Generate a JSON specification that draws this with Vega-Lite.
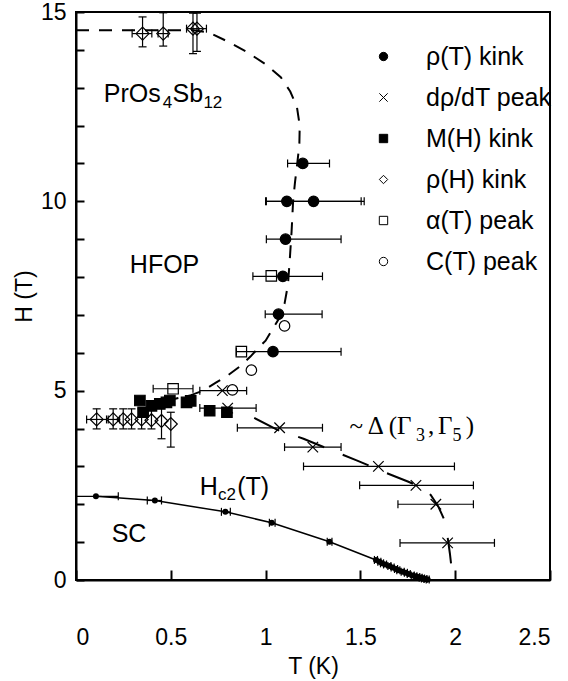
{
  "$schema": "https://vega.github.io/schema/vega-lite/v6.json",
  "width": 474,
  "height": 568,
  "autosize": {"type": "none"},
  "padding": {"left": 76, "top": 12, "right": 18, "bottom": 101},
  "config": {
    "view": {"stroke": "black", "strokeWidth": 2},
    "font": "Liberation Sans",
    "axis": {
      "domainColor": "black", "domainWidth": 2, "tickColor": "black", "tickWidth": 2,
      "grid": false, "labelColor": "black", "titleColor": "black",
      "labelFont": "Liberation Sans", "titleFont": "Liberation Sans",
      "labelFontSize": 23, "titleFontSize": 23, "titleFontWeight": "normal", "labelOverlap": false
    },
    "legend": {
      "title": null, "orient": "none", "legendX": 295, "legendY": 32, "labelFontSize": 25,
      "labelFont": "Liberation Sans", "labelColor": "black", "symbolSize": 70, "symbolStrokeWidth": 1,
      "symbolStrokeColor": "black", "rowPadding": 15, "labelOffset": 30, "padding": 0, "labelLimit": 300
    }
  },
  "datasets": {
    "pts": [
      {"s": "ρ(T) kink", "T": 1.196, "H": 11.0},
      {"s": "ρ(T) kink", "T": 1.112, "H": 10.0},
      {"s": "ρ(T) kink", "T": 1.253, "H": 10.0},
      {"s": "ρ(T) kink", "T": 1.105, "H": 9.0},
      {"s": "ρ(T) kink", "T": 1.091, "H": 8.02},
      {"s": "ρ(T) kink", "T": 1.068, "H": 7.02},
      {"s": "ρ(T) kink", "T": 1.039, "H": 6.03},
      {"s": "dρ/dT peak", "T": 0.772, "H": 5.0},
      {"s": "dρ/dT peak", "T": 0.80, "H": 4.54},
      {"s": "dρ/dT peak", "T": 1.074, "H": 4.02},
      {"s": "dρ/dT peak", "T": 1.249, "H": 3.51},
      {"s": "dρ/dT peak", "T": 1.595, "H": 3.0},
      {"s": "dρ/dT peak", "T": 1.793, "H": 2.5},
      {"s": "dρ/dT peak", "T": 1.898, "H": 2.0},
      {"s": "dρ/dT peak", "T": 1.96, "H": 0.98},
      {"s": "M(H) kink", "T": 0.337, "H": 4.74},
      {"s": "M(H) kink", "T": 0.354, "H": 4.43},
      {"s": "M(H) kink", "T": 0.398, "H": 4.6},
      {"s": "M(H) kink", "T": 0.442, "H": 4.65},
      {"s": "M(H) kink", "T": 0.477, "H": 4.69},
      {"s": "M(H) kink", "T": 0.495, "H": 4.74},
      {"s": "M(H) kink", "T": 0.583, "H": 4.69},
      {"s": "M(H) kink", "T": 0.605, "H": 4.73},
      {"s": "M(H) kink", "T": 0.705, "H": 4.47},
      {"s": "M(H) kink", "T": 0.796, "H": 4.43},
      {"s": "ρ(H) kink", "T": 0.351, "H": 14.43},
      {"s": "ρ(H) kink", "T": 0.46, "H": 14.43},
      {"s": "ρ(H) kink", "T": 0.617, "H": 14.56},
      {"s": "ρ(H) kink", "T": 0.638, "H": 14.56},
      {"s": "ρ(H) kink", "T": 0.109, "H": 4.24},
      {"s": "ρ(H) kink", "T": 0.196, "H": 4.24},
      {"s": "ρ(H) kink", "T": 0.249, "H": 4.24},
      {"s": "ρ(H) kink", "T": 0.293, "H": 4.24},
      {"s": "ρ(H) kink", "T": 0.346, "H": 4.24},
      {"s": "ρ(H) kink", "T": 0.398, "H": 4.22},
      {"s": "ρ(H) kink", "T": 0.451, "H": 4.2},
      {"s": "ρ(H) kink", "T": 0.50, "H": 4.12},
      {"s": "α(T) peak", "T": 0.512, "H": 5.05},
      {"s": "α(T) peak", "T": 0.872, "H": 6.03},
      {"s": "α(T) peak", "T": 1.03, "H": 8.03},
      {"s": "C(T) peak", "T": 0.825, "H": 5.02},
      {"s": "C(T) peak", "T": 0.925, "H": 5.54},
      {"s": "C(T) peak", "T": 1.10, "H": 6.71}
    ],
    "xerr": [
      {"H": 11.0, "lo": 1.116, "hi": 1.337},
      {"H": 10.0, "lo": 1.004, "hi": 1.504},
      {"H": 10.0, "lo": 1.0, "hi": 1.52},
      {"H": 9.0, "lo": 1.004, "hi": 1.398},
      {"H": 8.02, "lo": 0.933, "hi": 1.30},
      {"H": 7.02, "lo": 0.998, "hi": 1.298},
      {"H": 6.03, "lo": 0.846, "hi": 1.398},
      {"H": 5.05, "lo": 0.407, "hi": 0.617},
      {"H": 5.0, "lo": 0.653, "hi": 0.90},
      {"H": 4.54, "lo": 0.653, "hi": 0.95},
      {"H": 4.02, "lo": 0.851, "hi": 1.30},
      {"H": 3.51, "lo": 1.10, "hi": 1.398},
      {"H": 3.0, "lo": 1.20, "hi": 1.996},
      {"H": 2.5, "lo": 1.496, "hi": 2.096},
      {"H": 2.0, "lo": 1.698, "hi": 2.096},
      {"H": 0.98, "lo": 1.709, "hi": 2.207},
      {"H": 4.24, "lo": 0.056, "hi": 0.161},
      {"H": 4.24, "lo": 0.17, "hi": 0.23},
      {"H": 14.43, "lo": 0.296, "hi": 0.40},
      {"H": 14.43, "lo": 0.433, "hi": 0.486},
      {"H": 14.56, "lo": 0.583, "hi": 0.688}
    ],
    "yerr": [
      {"T": 0.351, "lo": 14.08, "hi": 14.87},
      {"T": 0.46, "lo": 14.1, "hi": 14.98},
      {"T": 0.617, "lo": 13.9, "hi": 14.97},
      {"T": 0.638, "lo": 13.96, "hi": 14.97},
      {"T": 0.109, "lo": 3.99, "hi": 4.52},
      {"T": 0.196, "lo": 3.99, "hi": 4.52},
      {"T": 0.249, "lo": 3.99, "hi": 4.52},
      {"T": 0.293, "lo": 3.99, "hi": 4.52},
      {"T": 0.346, "lo": 3.99, "hi": 4.52},
      {"T": 0.398, "lo": 3.99, "hi": 4.52},
      {"T": 0.451, "lo": 3.73, "hi": 4.6},
      {"T": 0.50, "lo": 3.51, "hi": 4.43}
    ],
    "hc2": [
      {"T": 0.105, "H": 2.21, "lo": 0.0, "hi": 0.223},
      {"T": 0.416, "H": 2.10, "lo": 0.376, "hi": 0.451},
      {"T": 0.788, "H": 1.80, "lo": 0.767, "hi": 0.814},
      {"T": 1.032, "H": 1.51, "lo": 1.02, "hi": 1.05},
      {"T": 1.337, "H": 1.01, "lo": 1.325, "hi": 1.35},
      {"T": 1.582, "H": 0.53, "lo": 1.574, "hi": 1.59},
      {"T": 1.60, "H": 0.48, "lo": 1.592, "hi": 1.608},
      {"T": 1.614, "H": 0.44, "lo": 1.606, "hi": 1.622},
      {"T": 1.63, "H": 0.41, "lo": 1.622, "hi": 1.638},
      {"T": 1.653, "H": 0.37, "lo": 1.645, "hi": 1.661},
      {"T": 1.67, "H": 0.33, "lo": 1.662, "hi": 1.678},
      {"T": 1.688, "H": 0.29, "lo": 1.68, "hi": 1.696},
      {"T": 1.70, "H": 0.26, "lo": 1.692, "hi": 1.708},
      {"T": 1.723, "H": 0.22, "lo": 1.715, "hi": 1.731},
      {"T": 1.74, "H": 0.19, "lo": 1.732, "hi": 1.748},
      {"T": 1.755, "H": 0.16, "lo": 1.747, "hi": 1.763},
      {"T": 1.776, "H": 0.12, "lo": 1.768, "hi": 1.784},
      {"T": 1.79, "H": 0.10, "lo": 1.782, "hi": 1.798},
      {"T": 1.805, "H": 0.08, "lo": 1.797, "hi": 1.813},
      {"T": 1.818, "H": 0.06, "lo": 1.81, "hi": 1.826},
      {"T": 1.83, "H": 0.04, "lo": 1.822, "hi": 1.838},
      {"T": 1.843, "H": 0.025, "lo": 1.835, "hi": 1.851},
      {"T": 1.855, "H": 0.01, "lo": 1.847, "hi": 1.863}
    ],
    "fop": [
      {"i": 0, "T": 0.0, "H": 14.52},
      {"i": 1, "T": 0.62, "H": 14.52},
      {"i": 2, "T": 0.7, "H": 14.46},
      {"i": 3, "T": 0.8, "H": 14.22},
      {"i": 4, "T": 0.9, "H": 13.95},
      {"i": 5, "T": 1.0, "H": 13.62},
      {"i": 6, "T": 1.08, "H": 13.28},
      {"i": 7, "T": 1.13, "H": 12.9},
      {"i": 8, "T": 1.165, "H": 12.5},
      {"i": 9, "T": 1.18, "H": 12.0},
      {"i": 10, "T": 1.178, "H": 11.5},
      {"i": 11, "T": 1.167, "H": 11.0},
      {"i": 12, "T": 1.155, "H": 10.5},
      {"i": 13, "T": 1.145, "H": 10.0},
      {"i": 14, "T": 1.137, "H": 9.2},
      {"i": 15, "T": 1.128, "H": 8.5},
      {"i": 16, "T": 1.118, "H": 7.8},
      {"i": 17, "T": 1.1, "H": 7.3},
      {"i": 18, "T": 1.07, "H": 6.9},
      {"i": 19, "T": 1.04, "H": 6.65},
      {"i": 20, "T": 1.0, "H": 6.32},
      {"i": 21, "T": 0.96, "H": 6.12},
      {"i": 22, "T": 0.92, "H": 5.9},
      {"i": 23, "T": 0.87, "H": 5.66},
      {"i": 24, "T": 0.8, "H": 5.4},
      {"i": 25, "T": 0.74, "H": 5.22},
      {"i": 26, "T": 0.67, "H": 5.0},
      {"i": 27, "T": 0.6, "H": 4.87},
      {"i": 28, "T": 0.5, "H": 4.76}
    ],
    "delta": [
      {"i": 0, "T": 0.94, "H": 4.28},
      {"i": 1, "T": 1.06, "H": 3.97},
      {"i": 2, "T": 1.2, "H": 3.73},
      {"i": 3, "T": 1.35, "H": 3.42},
      {"i": 4, "T": 1.48, "H": 3.16},
      {"i": 5, "T": 1.64, "H": 2.82},
      {"i": 6, "T": 1.75, "H": 2.6},
      {"i": 7, "T": 1.82, "H": 2.45},
      {"i": 8, "T": 1.87, "H": 2.25},
      {"i": 9, "T": 1.91, "H": 1.95},
      {"i": 10, "T": 1.94, "H": 1.62},
      {"i": 11, "T": 1.958, "H": 1.2},
      {"i": 12, "T": 1.972, "H": 0.7},
      {"i": 13, "T": 1.978, "H": 0.44}
    ],
    "labels": [
      {"k": "main", "t": "PrOs", "T": 0.147, "H": 12.63},
      {"k": "main", "t": "Sb", "T": 0.509, "H": 12.63},
      {"k": "main", "t": "HFOP", "T": 0.284, "H": 8.11},
      {"k": "main", "t": "SC", "T": 0.188, "H": 1.01},
      {"k": "main", "t": "H", "T": 0.653, "H": 2.24},
      {"k": "main", "t": "(T)", "T": 0.85, "H": 2.24},
      {"k": "sub", "t": "4", "T": 0.458, "H": 12.47},
      {"k": "sub", "t": "12", "T": 0.672, "H": 12.47},
      {"k": "sub", "t": "c2", "T": 0.749, "H": 2.1},
      {"k": "serif", "t": "~ Δ (Γ", "T": 1.442, "H": 3.86},
      {"k": "serif", "t": ",", "T": 1.857, "H": 3.86},
      {"k": "serif", "t": "Γ", "T": 1.909, "H": 3.86},
      {"k": "serif", "t": ")", "T": 2.056, "H": 3.86},
      {"k": "serifsub", "t": "3", "T": 1.793, "H": 3.68},
      {"k": "serifsub", "t": "5", "T": 1.986, "H": 3.68}
    ]
  },
  "layer": [
    {
      "data": {"name": "pts"},
      "transform": [{"filter": "datum.s !== 'ρ(H) kink'"}],
      "mark": {"type": "point", "strokeWidth": 1.2, "opacity": 1, "size": 110},
      "encoding": {
        "x": {"field": "T", "type": "quantitative",
          "scale": {"domain": [0, 2.5], "nice": false, "zero": false},
          "axis": {"values": [0, 0.5, 1, 1.5, 2, 2.5], "tickCount": 20, "format": "~g", "tickSize": -10, "labelPadding": 56, "labelOverlap": false, "title": "T (K)", "titlePadding": 6}},
        "y": {"field": "H", "type": "quantitative",
          "scale": {"domain": [0, 15], "nice": false, "zero": false},
          "axis": {"values": [0,1,2,3,4,5,6,7,8,9,10,11,12,13,14,15], "tickCount": 40, "format": "~g", "labelExpr": "datum.value % 5 === 0 ? datum.label : ''", "labelOverlap": false, "tickSize": -8, "labelPadding": 18, "title": "H (T)", "titlePadding": 4}},
        "shape": {"field": "s", "type": "nominal",
          "scale": {"domain": ["ρ(T) kink", "dρ/dT peak", "M(H) kink", "ρ(H) kink", "α(T) peak", "C(T) peak"],
                    "range": ["circle", "M-1,-1L1,1M1,-1L-1,1", "square", "diamond", "square", "circle"]}},
        "fill": {"field": "s", "type": "nominal",
          "scale": {"domain": ["ρ(T) kink", "dρ/dT peak", "M(H) kink", "ρ(H) kink", "α(T) peak", "C(T) peak"],
                    "range": ["black", "transparent", "black", "transparent", "transparent", "transparent"]}},
        "stroke": {"field": "s", "type": "nominal",
          "scale": {"domain": ["ρ(T) kink", "dρ/dT peak", "M(H) kink", "ρ(H) kink", "α(T) peak", "C(T) peak"],
                    "range": ["black", "black", "black", "black", "black", "black"]}}
      }
    },
    {
      "data": {"name": "pts"},
      "transform": [{"filter": "datum.s === 'ρ(H) kink'"}],
      "mark": {"type": "point", "strokeWidth": 1.2, "opacity": 1, "size": 169},
      "encoding": {
        "x": {"field": "T", "type": "quantitative", "title": "T (K)"},
        "y": {"field": "H", "type": "quantitative", "title": "H (T)"},
        "shape": {"field": "s", "type": "nominal",
          "scale": {"domain": ["ρ(T) kink", "dρ/dT peak", "M(H) kink", "ρ(H) kink", "α(T) peak", "C(T) peak"],
                    "range": ["circle", "M-1,-1L1,1M1,-1L-1,1", "square", "diamond", "square", "circle"]}},
        "fill": {"field": "s", "type": "nominal",
          "scale": {"domain": ["ρ(T) kink", "dρ/dT peak", "M(H) kink", "ρ(H) kink", "α(T) peak", "C(T) peak"],
                    "range": ["black", "transparent", "black", "transparent", "transparent", "transparent"]}},
        "stroke": {"field": "s", "type": "nominal",
          "scale": {"domain": ["ρ(T) kink", "dρ/dT peak", "M(H) kink", "ρ(H) kink", "α(T) peak", "C(T) peak"],
                    "range": ["black", "black", "black", "black", "black", "black"]}}
      }
    },
    {
      "data": {"name": "xerr"},
      "mark": {"type": "rule", "strokeWidth": 1.2, "color": "black"},
      "encoding": {
        "x": {"field": "lo", "type": "quantitative", "title": "T (K)"},
        "x2": {"field": "hi"},
        "y": {"field": "H", "type": "quantitative", "title": "H (T)"}
      }
    },
    {
      "data": {"name": "xerr"},
      "transform": [{"fold": ["lo", "hi"], "as": ["end", "v"]}],
      "mark": {"type": "point", "shape": "M0,-1L0,1", "size": 64, "stroke": "black", "strokeWidth": 1.2, "opacity": 1},
      "encoding": {
        "x": {"field": "v", "type": "quantitative", "title": "T (K)"},
        "y": {"field": "H", "type": "quantitative", "title": "H (T)"}
      }
    },
    {
      "data": {"name": "yerr"},
      "mark": {"type": "rule", "strokeWidth": 1.2, "color": "black", "clip": true},
      "encoding": {
        "y": {"field": "lo", "type": "quantitative", "title": "H (T)"},
        "y2": {"field": "hi"},
        "x": {"field": "T", "type": "quantitative", "title": "T (K)"}
      }
    },
    {
      "data": {"name": "yerr"},
      "transform": [{"fold": ["lo", "hi"], "as": ["end", "v"]}],
      "mark": {"type": "point", "shape": "M-1,0L1,0", "size": 64, "stroke": "black", "strokeWidth": 1.2, "opacity": 1},
      "encoding": {
        "y": {"field": "v", "type": "quantitative", "title": "H (T)"},
        "x": {"field": "T", "type": "quantitative", "title": "T (K)"}
      }
    },
    {
      "data": {"name": "hc2"},
      "mark": {"type": "line", "color": "black", "strokeWidth": 1.5},
      "encoding": {
        "x": {"field": "T", "type": "quantitative", "title": "T (K)"},
        "y": {"field": "H", "type": "quantitative", "title": "H (T)"},
        "order": {"field": "T"}
      }
    },
    {
      "data": {"name": "hc2"},
      "mark": {"type": "rule", "strokeWidth": 1.2, "color": "black"},
      "encoding": {
        "x": {"field": "lo", "type": "quantitative", "title": "T (K)"},
        "x2": {"field": "hi"},
        "y": {"field": "H", "type": "quantitative", "title": "H (T)"}
      }
    },
    {
      "data": {"name": "hc2"},
      "transform": [{"fold": ["lo", "hi"], "as": ["end", "v"]}],
      "mark": {"type": "point", "shape": "M0,-1L0,1", "size": 64, "stroke": "black", "strokeWidth": 1.2, "opacity": 1},
      "encoding": {
        "x": {"field": "v", "type": "quantitative", "title": "T (K)"},
        "y": {"field": "H", "type": "quantitative", "title": "H (T)"}
      }
    },
    {
      "data": {"name": "hc2"},
      "mark": {"type": "circle", "size": 36, "color": "black", "opacity": 1},
      "encoding": {
        "x": {"field": "T", "type": "quantitative", "title": "T (K)"},
        "y": {"field": "H", "type": "quantitative", "title": "H (T)"}
      }
    },
    {
      "data": {"name": "fop"},
      "mark": {"type": "line", "color": "black", "strokeWidth": 2, "strokeDash": [13, 10]},
      "encoding": {
        "x": {"field": "T", "type": "quantitative", "title": "T (K)"},
        "y": {"field": "H", "type": "quantitative", "title": "H (T)"},
        "order": {"field": "i"}
      }
    },
    {
      "data": {"name": "delta"},
      "mark": {"type": "line", "color": "black", "strokeWidth": 2, "strokeDash": [28, 20]},
      "encoding": {
        "x": {"field": "T", "type": "quantitative", "title": "T (K)"},
        "y": {"field": "H", "type": "quantitative", "title": "H (T)"},
        "order": {"field": "i"}
      }
    },
    {
      "data": {"name": "labels"},
      "transform": [{"filter": "datum.k === 'main'"}],
      "mark": {"type": "text", "align": "left", "baseline": "alphabetic", "font": "Liberation Sans", "fontSize": 25, "color": "black"},
      "encoding": {
        "x": {"field": "T", "type": "quantitative", "title": "T (K)"},
        "y": {"field": "H", "type": "quantitative", "title": "H (T)"},
        "text": {"field": "t"}
      }
    },
    {
      "data": {"name": "labels"},
      "transform": [{"filter": "datum.k === 'sub'"}],
      "mark": {"type": "text", "align": "left", "baseline": "alphabetic", "font": "Liberation Sans", "fontSize": 17, "color": "black"},
      "encoding": {
        "x": {"field": "T", "type": "quantitative", "title": "T (K)"},
        "y": {"field": "H", "type": "quantitative", "title": "H (T)"},
        "text": {"field": "t"}
      }
    },
    {
      "data": {"name": "labels"},
      "transform": [{"filter": "datum.k === 'serif'"}],
      "mark": {"type": "text", "align": "left", "baseline": "alphabetic", "font": "Liberation Serif", "fontSize": 25, "color": "black"},
      "encoding": {
        "x": {"field": "T", "type": "quantitative", "title": "T (K)"},
        "y": {"field": "H", "type": "quantitative", "title": "H (T)"},
        "text": {"field": "t"}
      }
    },
    {
      "data": {"name": "labels"},
      "transform": [{"filter": "datum.k === 'serifsub'"}],
      "mark": {"type": "text", "align": "left", "baseline": "alphabetic", "font": "Liberation Serif", "fontSize": 18, "color": "black"},
      "encoding": {
        "x": {"field": "T", "type": "quantitative", "title": "T (K)"},
        "y": {"field": "H", "type": "quantitative", "title": "H (T)"},
        "text": {"field": "t"}
      }
    }
  ]
}
